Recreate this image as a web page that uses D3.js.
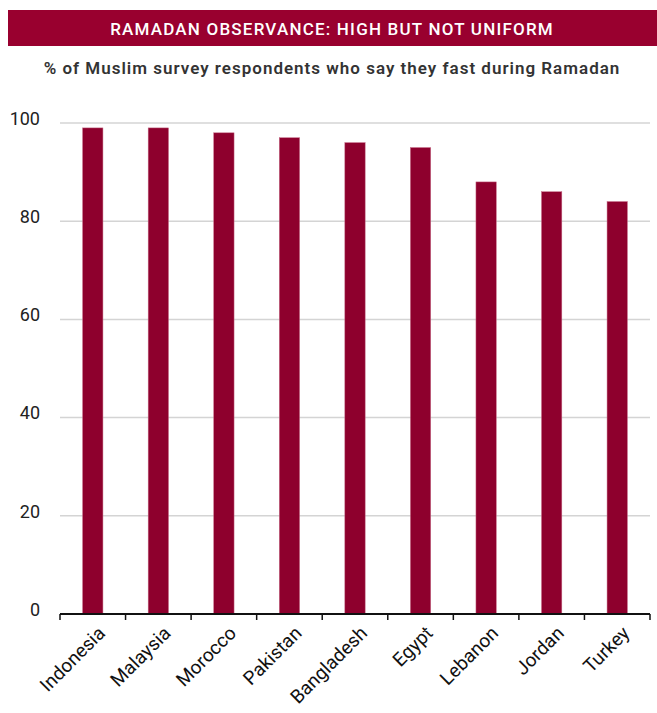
<!DOCTYPE html>
<html>
<head>
<meta charset="utf-8">
<script src="https://cdn.jsdelivr.net/npm/d3@7"></script>
<style>
  body { margin: 0; background: #fff; font-family: Roboto, "DejaVu Sans", sans-serif; }
</style>
</head>
<body>
<div id="chart"></div>
<script>
// data
var countries = ["Indonesia", "Malaysia", "Morocco", "Pakistan", "Bangladesh", "Egypt", "Lebanon", "Jordan", "Turkey"];
var fasting = [99, 99, 98, 97, 96, 95, 88, 86, 84];
var yTicks = [0, 20, 40, 60, 80, 100];

var titleText = "RAMADAN OBSERVANCE: HIGH BUT NOT UNIFORM";
var subtitleText = "% of Muslim survey respondents who say they fast during Ramadan";

var W = 657, H = 713;
var margin = {top: 123, right: 7, bottom: 99, left: 60};
var width = W - margin.left - margin.right;
var height = H - margin.top - margin.bottom;

var svg = d3.select("#chart").append("svg")
    .attr("width", W)
    .attr("height", H);

// title banner
svg.append("rect")
    .attr("x", 8).attr("y", 10)
    .attr("width", W - 8).attr("height", 36)
    .attr("fill", "#99002f");

svg.append("text")
    .attr("x", 332).attr("y", 35)
    .attr("text-anchor", "middle")
    .attr("fill", "#fff")
    .style("font-size", "17px")
    .style("font-weight", "500")
    .style("letter-spacing", "1.2px")
    .text(titleText);

svg.append("text")
    .attr("x", 332).attr("y", 74)
    .attr("text-anchor", "middle")
    .attr("fill", "#333")
    .style("font-size", "17px")
    .style("font-weight", "600")
    .style("letter-spacing", "1px")
    .text(subtitleText);

var g = svg.append("g")
    .attr("transform", "translate(" + margin.left + "," + margin.top + ")");

var x = d3.scaleBand()
    .domain(countries)
    .range([0, width])
    .paddingInner(0.69)
    .paddingOuter(0.345);

var y = d3.scaleLinear()
    .domain([0, 100])
    .range([height, 0]);

// gridlines
g.selectAll("line.grid")
    .data(yTicks.filter(function (d) { return d > 0; }))
    .enter()
    .append("line")
    .attr("class", "grid")
    .attr("x1", 0).attr("x2", width)
    .attr("y1", function (d) { return y(d); })
    .attr("y2", function (d) { return y(d); })
    .attr("stroke", "#d4d4d4")
    .attr("stroke-width", 1.5);

// y labels
g.selectAll("text.ylab")
    .data(yTicks)
    .enter()
    .append("text")
    .attr("class", "ylab")
    .attr("x", -20)
    .attr("y", function (d) { return y(d); })
    .attr("dy", "0.1em")
    .attr("text-anchor", "end")
    .attr("fill", "#222")
    .style("font-size", "18px")
    .text(function (d) { return d; });

// bars
g.selectAll("rect.bar")
    .data(fasting)
    .enter()
    .append("rect")
    .attr("class", "bar")
    .attr("x", function (d, i) { return x(countries[i]); })
    .attr("width", x.bandwidth())
    .attr("y", function (d) { return y(d); })
    .attr("height", function (d) { return height - y(d); })
    .attr("fill", "#8e002d")
    .attr("stroke", "#c56a86")
    .attr("stroke-width", 0.5);

// x axis with ticks at band edges
var edges = countries.map(function (c) { return x(c) - x.step() * x.paddingInner() / 2; });
edges.push(width);

g.append("line")
    .attr("x1", 0).attr("x2", width)
    .attr("y1", height).attr("y2", height)
    .attr("stroke", "#111")
    .attr("stroke-width", 2);

g.selectAll("line.tick")
    .data(edges)
    .enter()
    .append("line")
    .attr("class", "tick")
    .attr("x1", function (d) { return d; })
    .attr("x2", function (d) { return d; })
    .attr("y1", height).attr("y2", height + 6)
    .attr("stroke", "#111")
    .attr("stroke-width", 1.5);

g.selectAll("text.xlab")
    .data(countries)
    .enter()
    .append("text")
    .attr("class", "xlab")
    .attr("transform", function (d) {
        return "translate(" + (x(d) + x.bandwidth() / 2 + 4) + "," + (height + 11) + ") rotate(-45)";
    })
    .attr("text-anchor", "end")
    .attr("dy", "0.7em")
    .attr("fill", "#111")
    .style("font-size", "19px")
    .text(function (d) { return d; });
</script>
</body>
</html>
